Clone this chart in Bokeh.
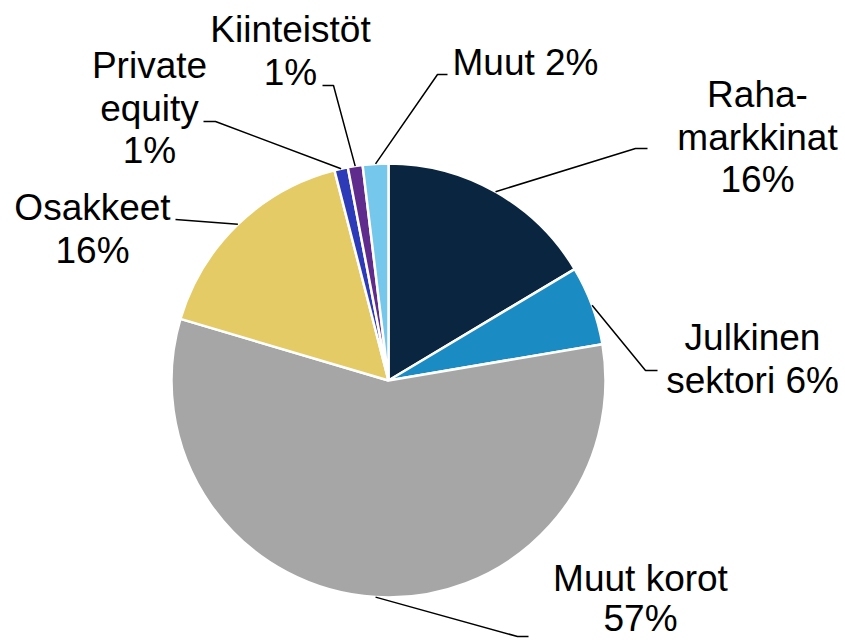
import math
from bokeh.plotting import figure
from bokeh.models import Range1d
from bokeh.core.properties import value
from bokeh.embed import file_html
from bokeh.resources import INLINE

# ---- data ----
categories = ["Rahamarkkinat", "Julkinen sektori", "Muut korot", "Osakkeet",
              "Private equity", "Kiinteistöt", "Muut"]
values = [16.4, 5.9, 57.2, 16.4, 1.0, 1.1, 1.9]
colors = ["#0a253f", "#1b8bc4", "#a6a6a6", "#e5cb66", "#2e3bb8", "#5f2b8c", "#76c7ec"]
label_lines = [
    ["Raha-", "markkinat", "16%"],
    ["Julkinen", "sektori 6%"],
    ["Muut korot", "57%"],
    ["Osakkeet", "16%"],
    ["Private", "equity", "1%"],
    ["Kiinteistöt", "1%"],
    ["Muut 2%"],
]

# ---- layout (picture pixels) ----
W, H = 845, 640
CX, CY, R = 388, 380, 217
# label centre x, first baseline y, line spacing
label_pos = [(757, 107, 42.5), (752, 350, 42.5), (640, 591, 40), (92, 220, 42.5),
             (149, 78, 42.5), (290, 42, 42.5), (525, 75, 42.5)]
TEXT_SHIFT = 13  # renderer places baseline lower than requested
# leader elbow points (picture px)
leader_pts = [
    [(635, 148), (647, 148)],
    [(645, 370), (657, 370)],
    [(517, 636), (528, 636)],
    [(175, 219)],
    [(215, 121), (203, 121)],
    [(333, 85), (322, 85)],
    [(437, 74), (447, 74)],
]


def tx(px):
    return px


def ty(py):
    return H - py


p = figure(width=W, height=H, output_backend="svg", toolbar_location=None,
           x_range=Range1d(0, W), y_range=Range1d(0, H), min_border=0)
p.axis.visible = False
p.grid.visible = False
p.outline_line_color = None
p.background_fill_color = "white"

total = sum(values)
cum = 0.0
mids = []
for v, c in zip(values, colors):
    f0 = cum / total
    f1 = (cum + v) / total
    cum += v
    start = math.pi / 2 - 2 * math.pi * f1
    end = math.pi / 2 - 2 * math.pi * f0
    p.wedge(x=tx(CX), y=ty(CY), radius=R, start_angle=start, end_angle=end,
            fill_color=c, line_color="white", line_width=2.5)
    mids.append((f0 + f1) / 2)

# leader lines
for m, pts in zip(mids, leader_pts):
    a = 2 * math.pi * m
    sx = CX + R * math.sin(a)
    sy = CY - R * math.cos(a)
    xs = [tx(sx)] + [tx(q[0]) for q in pts]
    ys = [ty(sy)] + [ty(q[1]) for q in pts]
    p.line(xs, ys, line_color="black", line_width=1.5)

# labels
for lines, (lx, ly, lh) in zip(label_lines, label_pos):
    for i, t in enumerate(lines):
        p.text(x=[tx(lx)], y=[ty(ly + i * lh - TEXT_SHIFT)], text=[t],
               text_font=value("Liberation Sans"), text_font_size="37px",
               text_align="center", text_baseline="alphabetic", text_color="black")

open("out.html", "w").write(file_html(p, INLINE))
